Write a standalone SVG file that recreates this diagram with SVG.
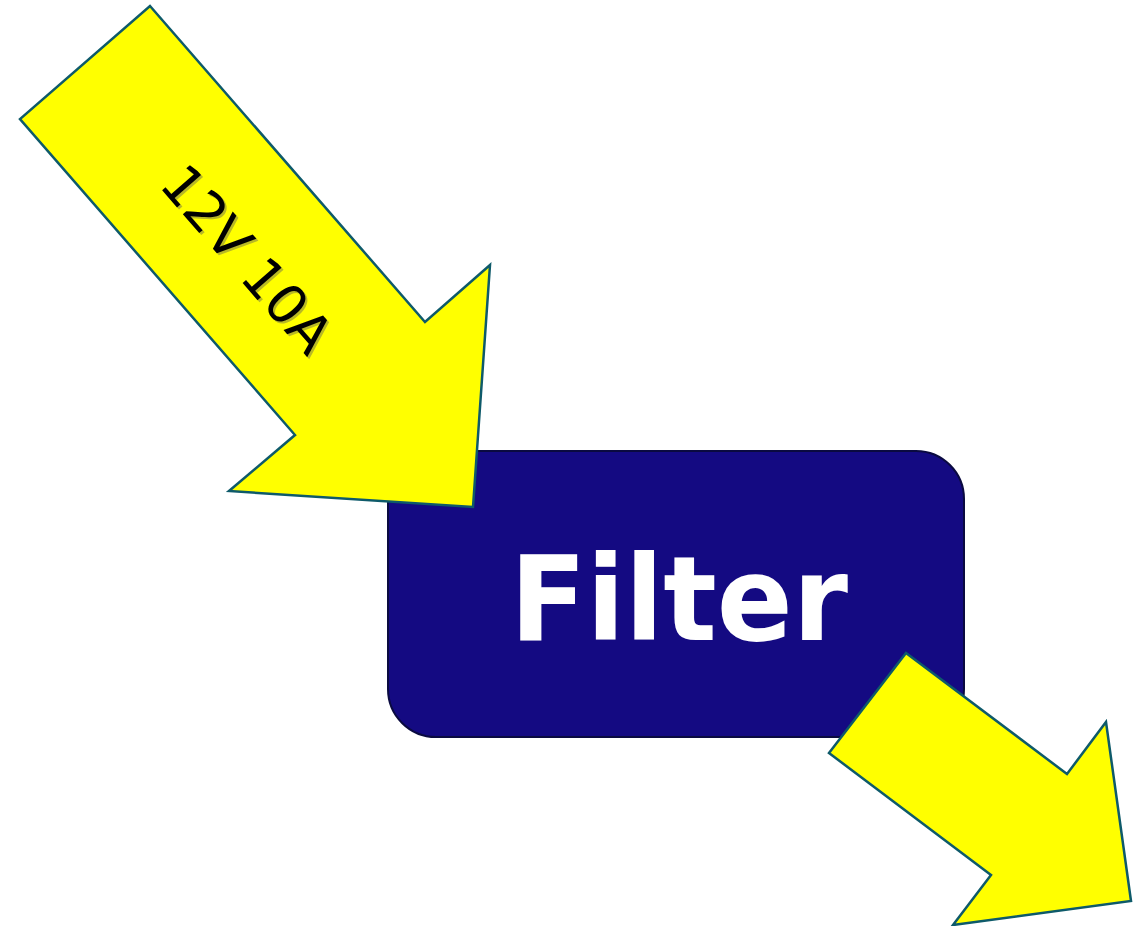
<svg xmlns="http://www.w3.org/2000/svg" width="1136" height="926" viewBox="0 0 1136 926">
<style>
.arrow{fill:#ffff00;stroke:#0e5a6a;stroke-width:2.5;stroke-linejoin:miter}
.lbl{font-family:"DejaVu Sans",Verdana,sans-serif;font-size:54px;fill:#000}
.shadow{font-family:"DejaVu Sans",Verdana,sans-serif;font-size:54px;fill:#8a8a40;opacity:0.6}
.title{font-family:"DejaVu Sans",Verdana,sans-serif;font-weight:bold;font-size:118px;fill:#fff}
</style>
<rect width="1136" height="926" fill="#fff"/>
<g id="filter">
<rect x="388" y="451" width="576" height="286" rx="48" ry="48" fill="#140a82" stroke="#0a0a40" stroke-width="2"/>
<text class="title" x="679" y="640" text-anchor="middle" textLength="338" lengthAdjust="spacingAndGlyphs">Filter</text>
</g>
<g id="connectors">
<g id="input-arrow">
<polygon class="arrow" points="150,6 425,322 490,265 473,507 229,491 295,435 20,119"/>
<text class="shadow" transform="translate(249,261) rotate(49)" text-anchor="middle" dy="19">12V 10A</text>
<text class="lbl" transform="translate(247,259) rotate(49)" text-anchor="middle" dy="19">12V 10A</text>
</g>
<g id="output-arrow">
<polygon class="arrow" points="906,653 1067,774 1106,722 1131,901 953,925 991,875 829,753"/>
</g>
</g>
</svg>
